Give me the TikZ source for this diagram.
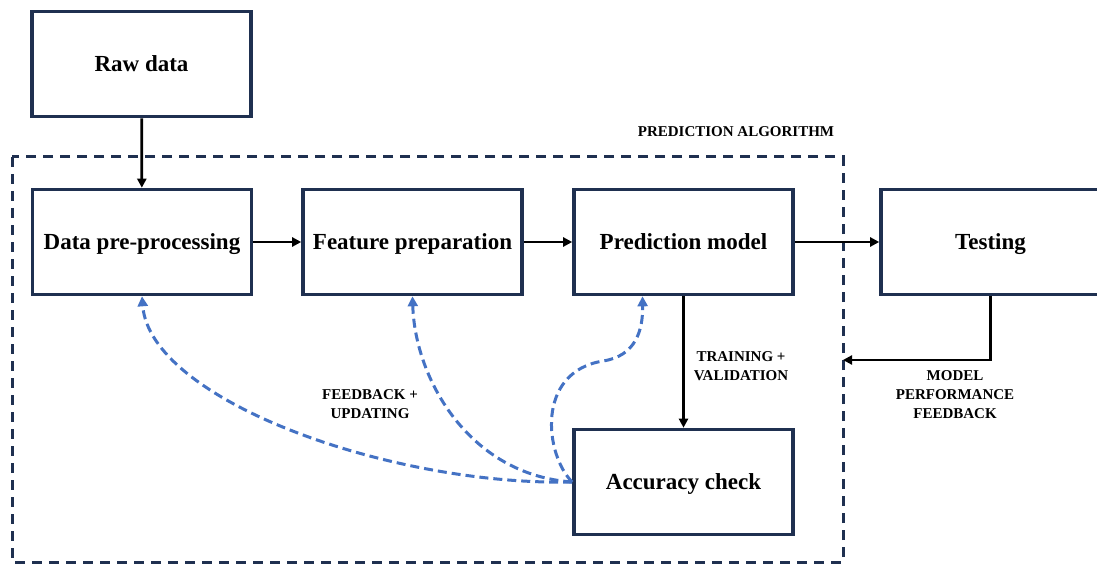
\documentclass[tikz,border=0pt]{standalone}
\usepackage{fontspec}
\setmainfont{Liberation Serif}
\usetikzlibrary{arrows.meta,calc}
\definecolor{navy}{HTML}{1F3050}
\definecolor{fbblue}{HTML}{4472C4}
\begin{document}
\begin{tikzpicture}[x=1pt,y=-1pt,
  box/.style={draw=navy,line width=3.6pt,fill=white,minimum width=219pt,minimum height=105pt,inner sep=0pt,font=\fontsize{23}{27}\selectfont\bfseries,text depth=0pt},
  arr/.style={draw=black,line width=2.8pt,-{Triangle[length=9pt,width=9pt]}},
  fb/.style={draw=fbblue,line width=3pt,dash pattern=on 9pt off 5pt,-{Triangle[length=10pt,width=10pt]}},
  frame/.style={draw=navy,line width=3pt,dash pattern=on 10pt off 7pt},
  lbl/.style={font=\fontsize{15}{19}\selectfont\bfseries,align=center,inner sep=0pt}]
\useasboundingbox (0,0) rectangle (1097,564);
\fill[white] (0,0) rectangle (1097,564);
\draw[frame] (12,157) rectangle (843,562);
\node[box] (raw) at (141.5,64) {Raw data};
\node[box] (dpp) at (142,242) {Data pre-processing};
\node[box] (feat) at (412.5,242) {Feature preparation};
\node[box] (pred) at (683.5,242) {Prediction model};
\node[box] (test) at (990.5,242) {Testing};
\node[box] (acc) at (683.5,482) {Accuracy check};
\node[lbl] (alg) at (736,132) {PREDICTION ALGORITHM};
\node[lbl] (tv) at (741,366) {TRAINING +\\VALIDATION};
\node[lbl] (fu) at (370,404) {FEEDBACK +\\UPDATING};
\node[lbl] (mpf) at (955,395) {MODEL\\PERFORMANCE\\FEEDBACK};
\coordinate (fbend) at (843,360);
\draw[arr] (raw) -- (dpp);
\draw[arr] (dpp) -- (feat);
\draw[arr] (feat) -- (pred);
\draw[arr] (pred) -- (test);
\draw[arr] (pred) -- (acc);
\draw[arr] (test.south) |- (fbend);
\draw[fb] (acc.west) .. controls (390,486) and (150,400) .. (dpp.south);
\draw[fb] (acc.west) .. controls (470,475) and (415,380) .. (feat.south);
\draw[fb] (acc.west) .. controls (545,455) and (535,372) .. (603,361)
  .. controls (636,356) and (643,330) .. ([xshift=-41pt]pred.south);
\end{tikzpicture}
\end{document}
